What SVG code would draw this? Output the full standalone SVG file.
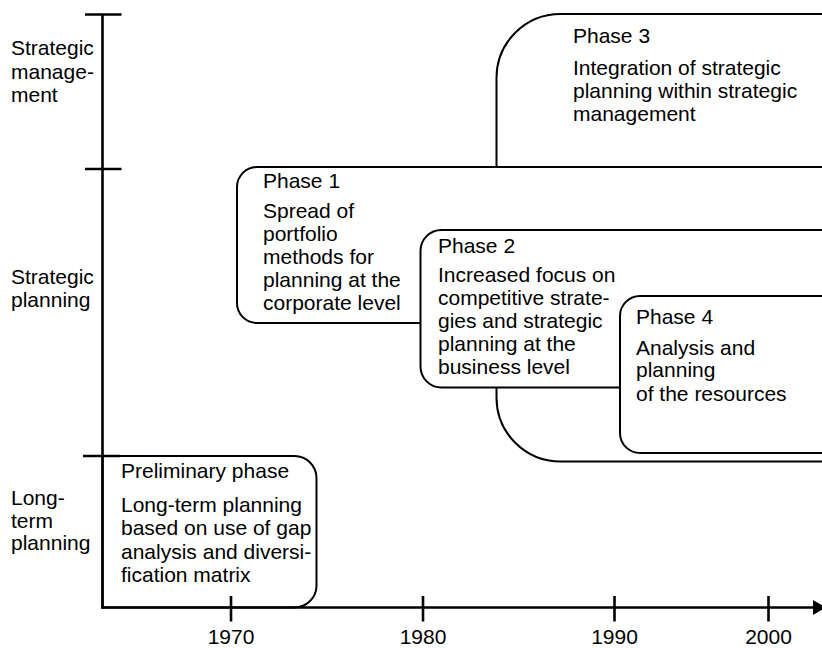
<svg xmlns="http://www.w3.org/2000/svg" width="822" height="648" viewBox="0 0 822 648">
<style>
  .box { fill: #ffffff; stroke: #000000; stroke-width: 2; }
  .axis { stroke: #000000; stroke-width: 2.6; fill: none; }
  text { font-family: "Liberation Sans", Arial, Helvetica, sans-serif; font-size: 21px; fill: #000000; }
  .yr { text-anchor: middle; }
</style>
<rect width="822" height="648" fill="#ffffff"/>

<g id="phase3">
  <path class="box" d="M 840 14 L 560.5 14 A 64 64 0 0 0 496.5 78 L 496.5 397.5 A 64 64 0 0 0 560.5 461.5 L 840 461.5 Z"/>
  <text x="573" y="42.5">Phase 3</text>
  <text x="573" y="74.5">Integration of strategic</text>
  <text x="573" y="97.5">planning within strategic</text>
  <text x="573" y="120.5">management</text>
</g>

<g id="phase1">
  <path class="box" d="M 840 167 L 257 167 A 20 20 0 0 0 237 187 L 237 303 A 20 20 0 0 0 257 323 L 840 323 Z"/>
  <text x="263" y="188">Phase 1</text>
  <text x="263" y="218">Spread of</text>
  <text x="263" y="241">portfolio</text>
  <text x="263" y="264">methods for</text>
  <text x="263" y="287">planning at the</text>
  <text x="263" y="310">corporate level</text>
</g>

<g id="phase2">
  <path class="box" d="M 840 230 L 441.5 230 A 21 21 0 0 0 420.5 251 L 420.5 366.5 A 21 21 0 0 0 441.5 387.5 L 840 387.5 Z"/>
  <text x="438" y="253">Phase 2</text>
  <text x="438" y="282">Increased focus on</text>
  <text x="438" y="305">competitive strate-</text>
  <text x="438" y="328">gies and strategic</text>
  <text x="438" y="351">planning at the</text>
  <text x="438" y="374">business level</text>
</g>

<g id="phase4">
  <path class="box" d="M 840 296 L 640 296 A 20 20 0 0 0 620 316 L 620 433 A 20 20 0 0 0 640 453 L 840 453 Z"/>
  <text x="636" y="324">Phase 4</text>
  <text x="636" y="354.5">Analysis and</text>
  <text x="636" y="377">planning</text>
  <text x="636" y="400.5">of the resources</text>
</g>

<g id="preliminary">
  <path class="box" d="M 102.5 456 L 294.5 456 A 22 22 0 0 1 316.5 478 L 316.5 585.5 A 22 22 0 0 1 294.5 607.5 L 102.5 607.5 Z"/>
  <text x="121" y="477.5">Preliminary phase</text>
  <text x="121" y="511.5">Long-term planning</text>
  <text x="121" y="535">based on use of gap</text>
  <text x="121" y="558.5">analysis and diversi-</text>
  <text x="121" y="581.5">fication matrix</text>
</g>

<g id="labels">
  <text x="11" y="55">Strategic</text>
  <text x="11" y="79">manage-</text>
  <text x="11" y="102">ment</text>
  <text x="11" y="284">Strategic</text>
  <text x="11" y="307">planning</text>
  <text x="11" y="505">Long-</text>
  <text x="11" y="527.5">term</text>
  <text x="11" y="550">planning</text>
  <text class="yr" x="231" y="644">1970</text>
  <text class="yr" x="423" y="644">1980</text>
  <text class="yr" x="614.5" y="644">1990</text>
  <text class="yr" x="768.5" y="644">2000</text>
</g>

<g id="connectors">
  <line class="axis" x1="102.5" y1="14.5" x2="102.5" y2="608.5"/>
  <line class="axis" x1="85" y1="14.5" x2="121.5" y2="14.5"/>
  <line class="axis" x1="85" y1="169" x2="121.5" y2="169"/>
  <line class="axis" x1="83" y1="456" x2="120" y2="456"/>
  <line class="axis" x1="101.2" y1="607.5" x2="815" y2="607.5"/>
  <polygon points="813,600 826,607.5 813,615" fill="#000000"/>
  <line class="axis" x1="231" y1="596" x2="231" y2="621.5"/>
  <line class="axis" x1="423" y1="596" x2="423" y2="621.5"/>
  <line class="axis" x1="614.5" y1="596" x2="614.5" y2="621.5"/>
  <line class="axis" x1="768.5" y1="596" x2="768.5" y2="621.5"/>
</g>
</svg>
